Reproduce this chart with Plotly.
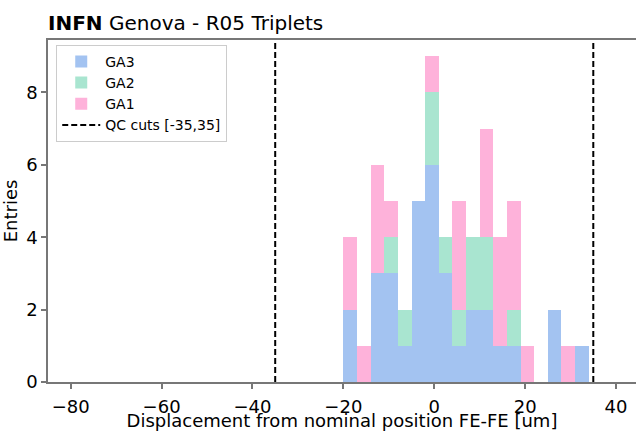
import plotly.graph_objects as go

# ---- data ----
bin_centers = [-18.5, -15.5, -12.5, -9.5, -6.5, -3.5, -0.5, 2.5, 5.5, 8.5,
               11.5, 14.5, 17.5, 20.5, 23.5, 26.5, 29.5, 32.5]
bin_width = 3
ga3 = [2, 0, 3, 3, 1, 5, 6, 3, 1, 2, 2, 1, 1, 0, 0, 2, 0, 1]
ga2 = [0, 0, 0, 1, 1, 0, 2, 1, 1, 2, 2, 0, 1, 0, 0, 0, 0, 0]
ga1 = [2, 1, 3, 1, 0, 0, 1, 0, 3, 0, 3, 3, 3, 1, 0, 0, 1, 0]
qc_cuts = [-35, 35]
x_ticks = [-80, -60, -40, -20, 0, 20, 40]
y_ticks = [0, 2, 4, 6, 8]

X_RANGE = [-85, 44.4]
Y_RANGE = [0, 9.45]

FONT = "DejaVu Sans"
SPINE = "#777777"

fig = go.Figure()
for name, vals, col in [("GA3", ga3, "#a3c3f1"), ("GA2", ga2, "#a9e5d0"), ("GA1", ga1, "#feb2da")]:
    fig.add_trace(go.Bar(x=bin_centers, y=vals, width=bin_width, name=name, legendgroup=name,
                         marker=dict(color=col, line=dict(width=0))))

cx, cy = [], []
for c in qc_cuts:
    cx += [c, c, None]
    cy += [Y_RANGE[0], Y_RANGE[1], None]
fig.add_trace(go.Scatter(x=cx, y=cy, mode="lines", name="QC cuts [-35,35]", legendgroup="qc",
                         line=dict(color="black", width=2, dash="6px,3px"),
                         cliponaxis=False))

fig.update_layout(
    width=636, height=431,
    margin=dict(l=48, r=0, t=39.5, b=48.7, autoexpand=False),
    barmode="stack", bargap=0,
    plot_bgcolor="white", paper_bgcolor="white",
    font=dict(family=FONT, size=18, color="black"),
    showlegend=True,
    legend=dict(x=0.014, y=0.986, xanchor="left", yanchor="top",
                traceorder="normal", font=dict(size=14), tracegroupgap=2,
                bgcolor="rgba(255,255,255,0.8)", bordercolor="#cccccc", borderwidth=1,
                itemwidth=38),
    xaxis=dict(range=X_RANGE, tickvals=x_ticks, ticktext=[str(v).replace("-", "\u2212") for v in x_ticks],
               showline=True, linecolor=SPINE, linewidth=1.5, mirror=True,
               ticks="outside", ticklen=5, tickwidth=1.5, tickcolor=SPINE,
               ticklabelstandoff=3,
               showgrid=False, zeroline=False,
               title=dict(text="Displacement from nominal position FE-FE [um]", standoff=9,
                          font=dict(size=18))),
    yaxis=dict(range=Y_RANGE, tickvals=y_ticks,
               showline=True, linecolor=SPINE, linewidth=1.5, mirror=False,
               ticks="outside", ticklen=5, tickwidth=1.5, tickcolor=SPINE,
               showgrid=False, zeroline=False,
               title=dict(text="Entries", standoff=8, font=dict(size=18))),
    title=dict(text="<b>INFN</b> Genova - R05 Triplets", x=48/636, xanchor="left",
               y=1 - 23/431, yanchor="middle", font=dict(size=20)),
)

fig.write_html("out.html")
